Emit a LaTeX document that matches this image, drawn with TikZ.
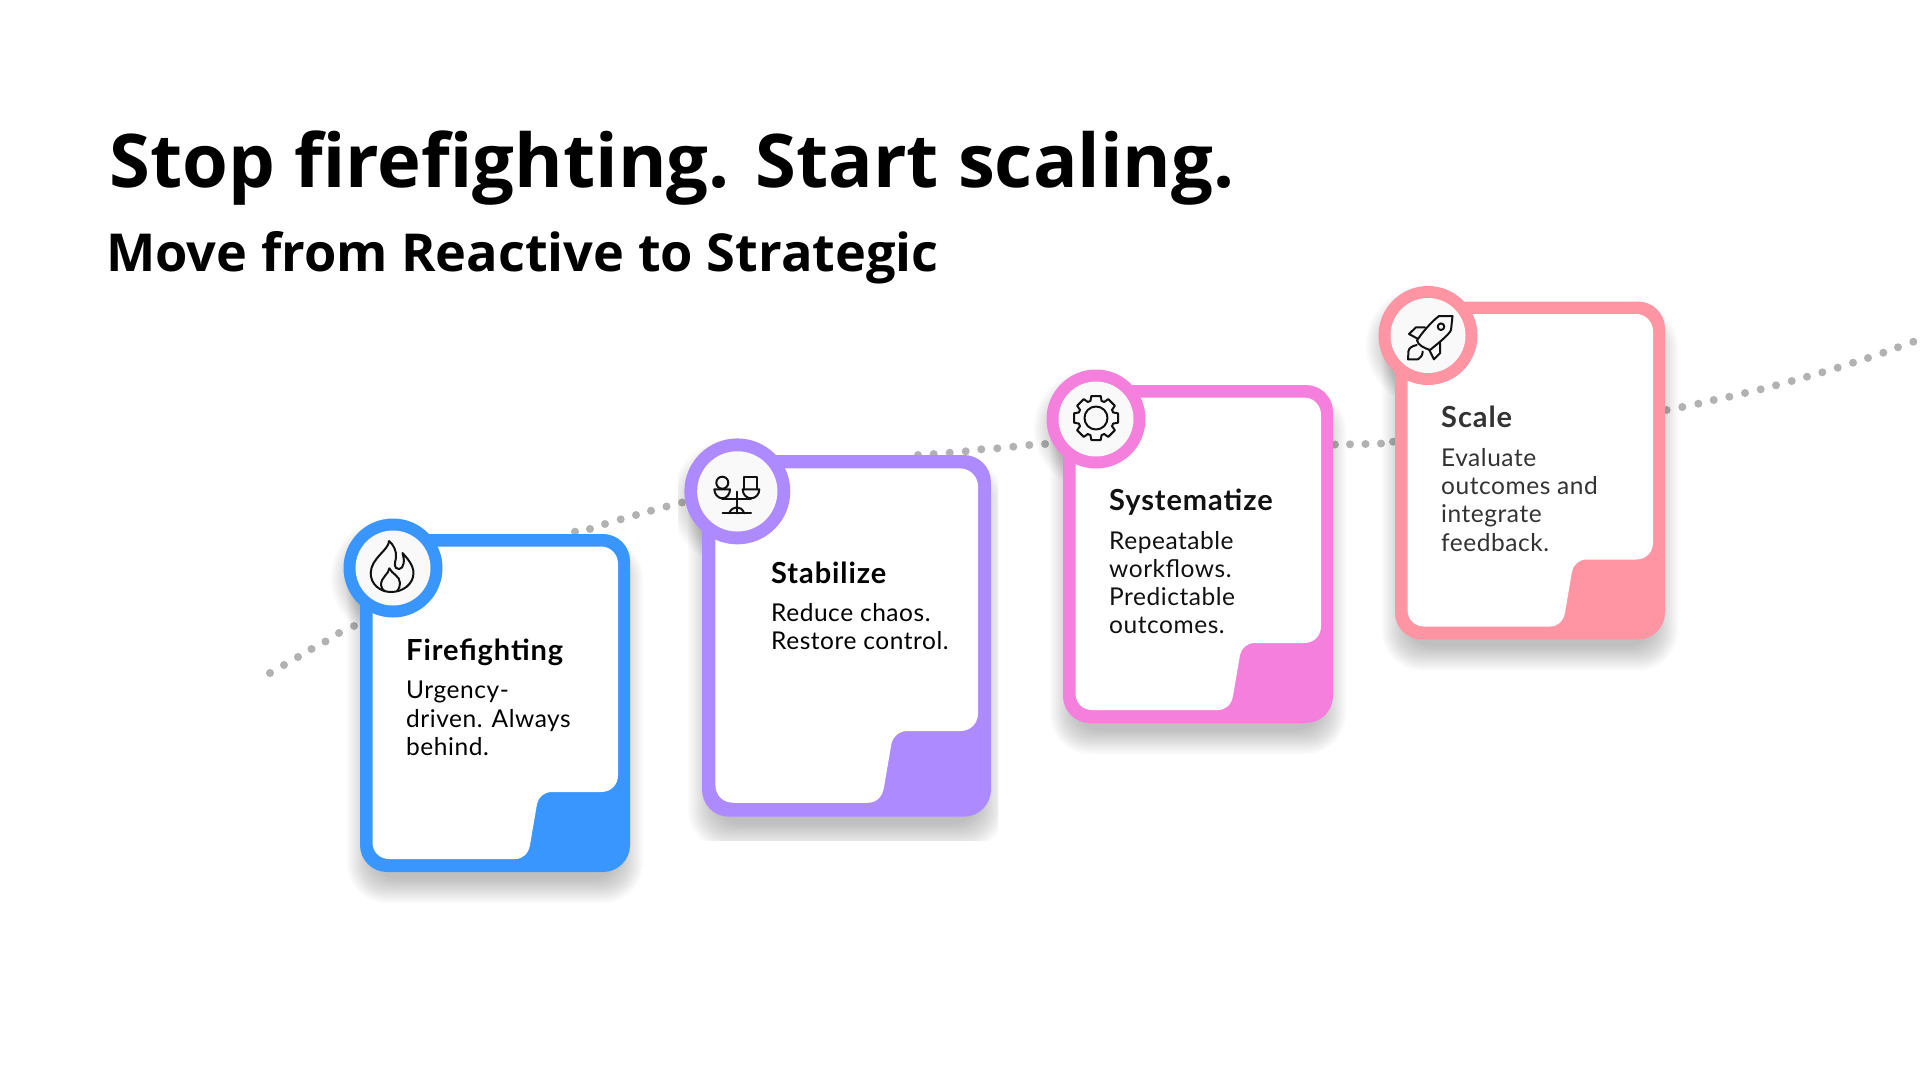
\documentclass[tikz,border=0pt]{standalone}
\usepackage{fontspec}
\setmainfont{Lato}
\newfontfamily\titlefont{Open Sans}
\newfontfamily\headfont[LetterSpace=3.2]{Lato}
\newfontfamily\bodyfont[LetterSpace=2.2]{Lato}
\definecolor{cblue}{HTML}{3A96FF}
\definecolor{cpurple}{HTML}{AD8AFF}
\definecolor{cpink}{HTML}{F47FDD}
\definecolor{crose}{HTML}{FF95A2}
\definecolor{dotgray}{HTML}{B2B2B2}
\definecolor{discfill}{HTML}{F9F9F9}
\definecolor{inkdark}{HTML}{111111}
\definecolor{inkgray}{HTML}{333333}
\tikzset{
  x=1pt,y=-1pt,
  titletext/.style={anchor=base west,inner sep=0pt,font=\titlefont\bfseries\fontsize{74.1}{80}\selectfont,text=black},
  subtext/.style={anchor=base west,inner sep=0pt,font=\titlefont\bfseries\fontsize{52.3}{56}\selectfont,text=black},
  headtext/.style={anchor=base west,inner sep=0pt,font=\headfont\bfseries\fontsize{29}{30}\selectfont},
  bodytext/.style={anchor=base west,inner sep=0pt,font=\bodyfont\fontsize{24.5}{28.3}\selectfont},
  iconline/.style={draw=inkdark,line width=2pt,line join=round,line cap=round},
  pathdot/.style={fill=dotgray,draw=none},
}
\newcommand{\shadowcard}[3]{%
  \begin{scope}[shift={(#1,#2)},scale=#3]
    \foreach \d in {13,11,...,-11}{
      \fill[black,opacity=.02,rounded corners={(27+max(\d,0))*1pt}]
        ({-\d},{-\d+18}) rectangle ({270+\d},{338+\d+18});
      \fill[black,opacity=.016] (30,{34+10}) circle ({49+\d*.8});
    }
  \end{scope}}
\newcommand{\cardbody}[4]{%
  \begin{scope}[shift={(#1,#2)},scale=#3]
    \fill[#4,rounded corners=27pt] (0,0) rectangle (270,338);
    \fill[white] (29.5,12.5) -- (241,12.5) arc[start angle=90,end angle=0,x radius=17,y radius=-17]
      -- (258,241) .. controls (258,251) and (251,258) .. (241,258)
      -- (192,258) .. controls (184,258) and (178.5,263) .. (177,270)
      -- (170,311) .. controls (168.5,319.5) and (163,325) .. (155,325)
      -- (29.5,325) .. controls (19.5,325) and (12.5,318) .. (12.5,308)
      -- (12.5,29.5) .. controls (12.5,19.5) and (19.5,12.5) .. (29.5,12.5) -- cycle;
    \fill[#4] (33,34) circle (49.5);
    \fill[discfill] (33,34) circle (37.5);
  \end{scope}}
\begin{document}
\begin{tikzpicture}
\useasboundingbox (0,0) rectangle (1920,1080);
\fill[white] (0,0) rectangle (1920,1080);
% dotted trend line
\foreach \px/\py in {270/673,284/665,298/657,311.5/649,325.5/641.5,339/633,354/626,
  575/531.7,590/529,605/524,620.7/519.3,636/515,651/510.7,666.5/506.5,682/502.5,
  918/455,933.7/454,949.7/452.7,965.7/451.3,981.3/449.3,997.3/448.3,1013.3/446.7,1029.3/445,1045/444,
  1335/444.5,1350/444.3,1365.5/444,1381/443.5,1393/441.7,
  1666.7/410,1682.3/407,1698.3/403.7,1713.7/400,1729.3/396.7,1745/393,1760.7/389.3,1776/385.3,1791.7/381,
  1807/376.7,1822.3/372.3,1837.7/367.7,1853/362.7,1868/358,1883.3/352.7,1898/347.3,1913.3/341.7}{
  \fill[pathdot] (\px,\py) circle (4);
}
% shadows
\shadowcard{360}{534}{1}
\begin{scope}
  \clip (678,440) rectangle (998,840);
  \shadowcard{702}{455}{1.07}
\end{scope}
\shadowcard{1063}{385}{1}
\shadowcard{1395}{301.5}{1}
% cards
\cardbody{360}{534}{1}{cblue}
\cardbody{702}{455}{1.07}{cpurple}
\cardbody{1063}{385}{1}{cpink}
\cardbody{1395}{301.5}{1}{crose}
% titles
\node[titletext] (title) at (109,187) {Stop firefighting. Start scaling.};
\node[subtext] (subtitle) at (106,271) {Move from Reactive to Strategic};
% card 1 text
\node[headtext,text=black] (h1) at (406,660) {Firefighting};
\node[bodytext,text=black] (b1a) at (406,698) {Urgency-};
\node[bodytext,text=black] (b1b) at (406,727) {driven. Always};
\node[bodytext,text=black] (b1c) at (406,755) {behind.};
% card 2 text
\node[headtext,text=black] (h2) at (771,583) {Stabilize};
\node[bodytext,text=black] (b2a) at (771,621) {Reduce chaos.};
\node[bodytext,text=black] (b2b) at (771,649) {Restore control.};
% card 3 text
\node[headtext,text=inkdark] (h3) at (1109,510) {Systematize};
\node[bodytext,text=inkdark] (b3a) at (1109,549) {Repeatable};
\node[bodytext,text=inkdark] (b3b) at (1109,577) {workflows.};
\node[bodytext,text=inkdark] (b3c) at (1109,605) {Predictable};
\node[bodytext,text=inkdark] (b3d) at (1109,633) {outcomes.};
% card 4 text
\node[headtext,text=inkgray] (h4) at (1441,427) {Scale};
\node[bodytext,text=inkgray] (b4a) at (1441,466) {Evaluate};
\node[bodytext,text=inkgray] (b4b) at (1441,494) {outcomes and};
\node[bodytext,text=inkgray] (b4c) at (1441,522.5) {integrate};
\node[bodytext,text=inkgray] (b4d) at (1441,551) {feedback.};
% fire icon
\begin{scope}[shift={(392,568)}]
  \draw[iconline] (-3,-27) .. controls (-3,-18) and (-21,-10) .. (-21.3,5)
    .. controls (-21.5,16) and (-12,24) .. (-1,24)
    .. controls (11,24) and (21.5,16) .. (21.5,5)
    .. controls (21.5,-3) and (15,-10) .. (10.5,-15)
    .. controls (13,-8) and (12,1) .. (7,1)
    .. controls (1,1) and (3,-6) .. (4,-10)
    .. controls (5,-17) and (1,-24) .. (-3,-27) -- cycle;
  \draw[iconline] (-7,23.5) .. controls (-9,22) and (-11,20) .. (-11,17)
    .. controls (-11,9) and (-3,6) .. (-2.7,.3)
    .. controls (0,6) and (8,8) .. (8,15)
    .. controls (8,18) and (7,21) .. (5.3,23);
\end{scope}
% scales icon
\begin{scope}[shift={(738,491)}]
  \draw[iconline] (-15.7,-8.3) circle (6);
  \draw[iconline] (-23.7,-1.7) -- (-8,-1.7) .. controls (-8,3) and (-11,7.3) .. (-15.7,7.3)
    .. controls (-20,7.3) and (-23.7,3) .. (-23.7,-1.7) -- cycle;
  \draw[iconline] (6.3,-1.7) -- (6.3,-13.7) -- (18.7,-13.7) -- (18.7,-1.7);
  \draw[iconline] (4.7,-1.7) -- (21.3,-1.7) .. controls (21.3,3) and (18,7.3) .. (13,7.3)
    .. controls (8,7.3) and (4.7,3) .. (4.7,-1.7) -- cycle;
  \draw[iconline] (-15.7,7.3) -- (-15.7,8) -- (13,8) -- (13,7.3);
  \draw[iconline] (-1.3,.7) -- (-1.3,22.3);
  \draw[iconline] (-15.3,22.3) -- (13,22.3);
  \draw[iconline] (-9,22.3) .. controls (-7,18) and (-4,16.3) .. (-1.3,16.3) .. controls (2,16.3) and (4.5,18) .. (6.3,22.3);
\end{scope}
% gear icon
\begin{scope}[shift={(1096,418)}]
  \draw[iconline] (11.5,0) arc[start angle=0,end angle=360,radius=11.5];
  \draw[iconline] (72:18)
    \foreach \a in {90,135,180,225,270,315,360,405}{
      -- ({\a-18}:18) -- ({\a-12}:22.5) -- ({\a+12}:22.5) -- ({\a+18}:18)
    } -- cycle;
\end{scope}
% rocket icon
\begin{scope}[shift={(1428,336)}]
  \draw[iconline] (24.5,-20) -- (11,-20) .. controls (3,-14) and (-7,-2) .. (-11,4.5)
    .. controls (-10,9) and (-4,12) .. (2,14) .. controls (8,9) and (21,-1) .. (23,-6) -- cycle;
  \draw[iconline] (13,-9.3) circle (3.3);
  \draw[iconline] (-3,-8.7) -- (-12,-8.7) -- (-19,-2) -- (-10.7,2.5);
  \draw[iconline] (12,6.7) -- (12,17.3) -- (6,23.3) -- (1.3,14);
  \draw[iconline] (-11.3,9) .. controls (-16,10) and (-19,12) .. (-19.5,15) -- (-20,23.3) -- (-10,23.3)
    .. controls (-7,22) and (-5.5,19) .. (-5.3,15.5);
\end{scope}
\end{tikzpicture}
\end{document}
